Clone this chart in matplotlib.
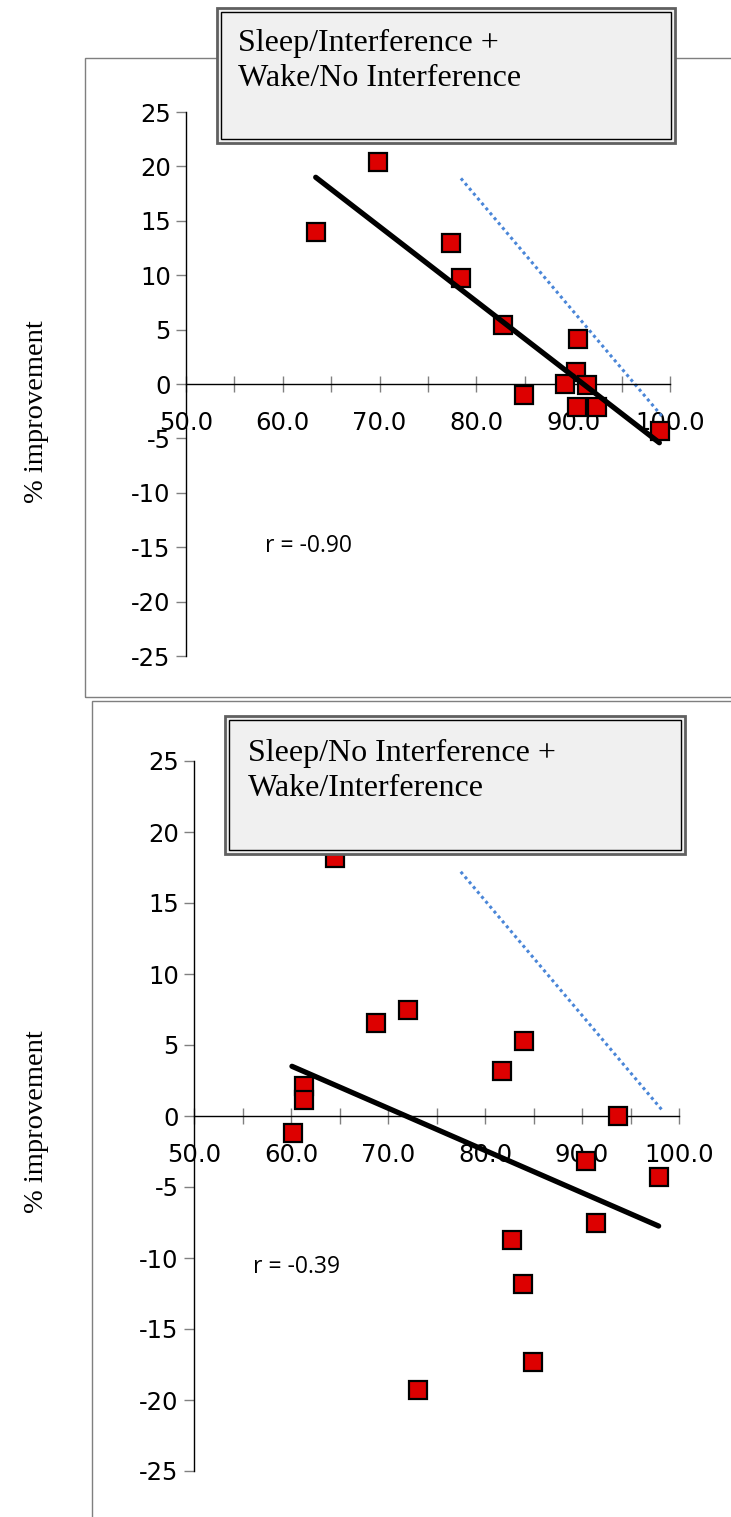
import numpy as np
import matplotlib.pyplot as plt
from matplotlib.patches import Rectangle

plt.rcParams["axes.unicode_minus"] = False

W, H = 731, 1517

# data
top_x = [63.4, 69.8, 77.4, 78.4, 82.7, 84.9, 90.5, 90.3, 89.2, 91.4, 90.4, 92.5, 99.0]
top_y = [14.0, 20.4, 13.0, 9.7, 5.4, -1.0, 4.1, 1.1, 0.0, -0.1, -2.1, -2.1, -4.3]
top_fit_x = [63.4, 98.9]
top_fit_y = [19.0, -5.4]
top_ref_x = [78.4, 99.3]
top_ref_y = [18.9, -3.1]

bot_x = [64.5, 68.8, 72.1, 84.0, 81.8, 61.3, 61.3, 60.2, 93.7, 90.4, 97.9, 91.4, 82.8, 83.9, 84.9, 73.1]
bot_y = [18.2, 6.55, 7.5, 5.3, 3.2, 2.1, 1.1, -1.2, 0.0, -3.2, -4.3, -7.5, -8.7, -11.8, -17.3, -19.3]
bot_fit_x = [60.1, 97.9]
bot_fit_y = [3.5, -7.75]
bot_ref_x = [77.5, 98.4]
bot_ref_y = [17.2, 0.3]

titles = ["Sleep/Interference +\nWake/No Interference",
          "Sleep/No Interference +\nWake/Interference"]
r_labels = ["r = -0.90", "r = -0.39"]
ylabel = "% improvement"
xticks = [50, 55, 60, 65, 70, 75, 80, 85, 90, 95, 100]
xticklabels = ["50.0", "", "60.0", "", "70.0", "", "80.0", "", "90.0", "", "100.0"]
yticks = [-25, -20, -15, -10, -5, 0, 5, 10, 15, 20, 25]

fig = plt.figure(figsize=(W / 100, H / 100), dpi=100)


def fx(px):
    return px / W


def fy(py):
    return 1 - py / H


def panel(ax_box, frame, tbox, title_xy, r_xy, ylab_xy, xs, ys, fit_x, fit_y, ref_x, ref_y, title, rlab):
    # outer chart-area frame
    l, t, r, b = frame
    fig.patches.append(Rectangle((fx(l), fy(b)), fx(r) - fx(l), fy(t) - fy(b),
                                 transform=fig.transFigure, fill=False,
                                 edgecolor="#7f7f7f", lw=1.0, zorder=0.5))
    x0, y_top, x1, y_bot = ax_box
    ax = fig.add_axes([fx(x0), fy(y_bot), fx(x1) - fx(x0), fy(y_top) - fy(y_bot)])
    ax.set_xlim(50, 100)
    ax.set_ylim(-25, 25)
    ax.patch.set_alpha(0)
    for s in ["top", "right"]:
        ax.spines[s].set_visible(False)
    ax.spines["bottom"].set_position(("data", 0))
    ax.spines["left"].set_position(("data", 50))
    ax.spines["bottom"].set_linewidth(1.0)
    ax.spines["left"].set_linewidth(1.0)
    ax.set_xticks(xticks)
    ax.set_xticklabels(xticklabels)
    ax.set_yticks(yticks)
    ax.tick_params(axis="x", direction="inout", length=11, width=1, color="#808080",
                   pad=14, labelsize=17.5)
    ax.tick_params(axis="y", direction="out", length=7, width=1, color="#808080",
                   pad=4, labelsize=17.5)

    ax.plot(ref_x, ref_y, color="#4a86d8", lw=2.2, linestyle=(0, (1, 1.1)), zorder=2)
    ax.plot(fit_x, fit_y, color="black", lw=3.8, solid_capstyle="round", zorder=4)
    ax.plot(xs, ys, linestyle="none", marker="s", ms=13, mfc="#dd0000",
            mec="black", mew=1.6, zorder=3)

    fig.text(fx(r_xy[0]), fy(r_xy[1]), rlab, family="Open Sans", fontsize=16.5,
             ha="left", va="center")
    fig.text(fx(ylab_xy[0]), fy(ylab_xy[1]), ylabel, family="Liberation Serif",
             fontsize=20.5, rotation=90, ha="center", va="center")

    # title box with double border
    bl, bt, br, bb = tbox
    fig.patches.append(Rectangle((fx(bl), fy(bb)), fx(br) - fx(bl), fy(bt) - fy(bb),
                                 transform=fig.transFigure, facecolor="#f0f0f0",
                                 edgecolor="#606060", lw=2.0, zorder=5))
    fig.patches.append(Rectangle((fx(bl + 4), fy(bb - 4)), fx(br - 4) - fx(bl + 4),
                                 fy(bt + 4) - fy(bb - 4), transform=fig.transFigure,
                                 fill=False, edgecolor="black", lw=1.0, zorder=5.1))
    fig.text(fx(title_xy[0]), fy(title_xy[1]), title, family="Liberation Serif",
             fontsize=23, ha="left", va="top", linespacing=1.25, zorder=6)
    return ax


panel((186, 112, 670, 656), (85, 58, 760, 697), (217, 8, 675, 143), (238, 29),
      (265, 546), (37, 412), top_x, top_y, top_fit_x, top_fit_y, top_ref_x, top_ref_y,
      titles[0], r_labels[0])
panel((194, 761, 679, 1471), (92, 701, 760, 1540), (225, 716, 685, 854), (248, 739),
      (253, 1267), (37, 1122), bot_x, bot_y, bot_fit_x, bot_fit_y, bot_ref_x, bot_ref_y,
      titles[1], r_labels[1])

fig.savefig("out.png", dpi=100)
